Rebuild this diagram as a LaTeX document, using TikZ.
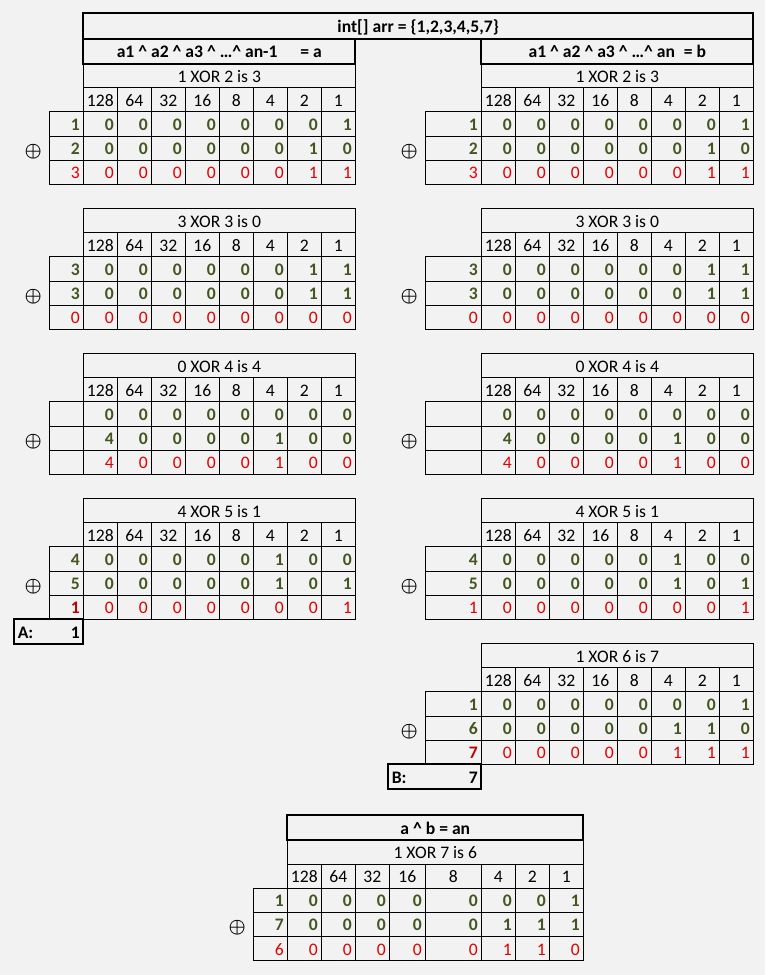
\documentclass[tikz,border=0pt]{standalone}
\usepackage{fontspec}
\setmainfont{Carlito}
\usetikzlibrary{positioning,calc}
\definecolor{sheet}{HTML}{F2F2F2}
\definecolor{bitgreen}{HTML}{44561F}
\definecolor{bitred}{HTML}{E00000}
\definecolor{sumred}{HTML}{C00000}
\newcommand{\cellfont}{\fontsize{13.2}{15}\selectfont}
\tikzset{
  cell/.style={
    draw,
    line width=0.75pt,
    anchor=north west,
    inner ysep=0pt,
    inner xsep=2.6pt,
    outer sep=0pt,
    minimum height=18.075pt,
    text height=10pt,
    text depth=0pt,
    font=\cellfont
  },
  wcell/.style={cell, minimum width=25.5pt},
  bit/.style={cell, minimum width=25.5pt, text width=20.3pt, align=right},
  bit36/.style={cell, minimum width=27pt, text width=21.8pt, align=right},
  lab34/.style={bit},
  lab56/.style={cell, minimum width=42pt, text width=36.8pt, align=right},
  titlecell/.style={cell, minimum width=204pt},
  head/.style={cell, line width=1.5pt, minimum height=18.9pt, font=\cellfont\bfseries},
  on/.style={text=bitgreen, font=\cellfont\bfseries},
  sum/.style={text=bitred},
  xorsign/.style={inner sep=0pt, font=\fontsize{13.5}{13.5}\selectfont\boldmath}
}
% one row: label cell + 8 bit cells
\newcommand{\bitrow}[6]{%
  \foreach \val [count=\col from 0] in {#6} {
    \ifnum\col=0
      \node[lab#3,#5] (#1\col) at ({#2-#3},{#4}) {\val};
    \else
      \node[bit,#5] (#1\col) at ({#2+34*(\col-1)},{#4}) {\val};
    \fi}}
% one xor step: title, weights, two operands, result
\newcommand{\xorblock}[8]{%
  \node[titlecell] (#1-t) at (#2,#4) {#5};
  \foreach \w [count=\col] in {128,64,32,16,8,4,2,1}
    \node[wcell] (#1-w\col) at ({#2+34*(\col-1)},{#4+24.1}) {\w};
  \bitrow{#1-a}{#2}{#3}{#4+48.2}{on}{#6}
  \bitrow{#1-b}{#2}{#3}{#4+72.3}{on}{#7}
  \bitrow{#1-c}{#2}{#3}{#4+96.4}{sum}{#8}
  \node[xorsign] (#1-op) at ({#2-#3-16},{#4+87.5}) {$\oplus$};
}

\begin{document}
\begin{tikzpicture}[x=0.75pt,y=-0.75pt]
  \fill[sheet] (0,0) rectangle (765,975);
  \useasboundingbox (0,0) rectangle (765,975);

  \node[head, minimum width=502.3pt] (arr) at (83.3,13.3) {int[] arr = \{1,2,3,4,5,7\}};
  \node[head, minimum width=204pt] (ha) at (83.3,38.5)
    {a1 \textasciicircum{} a2 \textasciicircum{} a3 \textasciicircum{} …\textasciicircum{} an-1\hspace{1.3em}= a};
  \node[head, minimum width=204pt] (hb) at (481.3,38.5)
    {a1 \textasciicircum{} a2 \textasciicircum{} a3 \textasciicircum{} …\textasciicircum{} an\hspace{0.5em}= b};

  % left: a1 ^ ... ^ an-1
  \xorblock{l1}{83.3}{34}{63.7}{1 XOR 2 is 3}
    {1,0,0,0,0,0,0,0,1}{2,0,0,0,0,0,0,1,0}{3,0,0,0,0,0,0,1,1}
  \xorblock{l2}{83.3}{34}{208.7}{3 XOR 3 is 0}
    {3,0,0,0,0,0,0,1,1}{3,0,0,0,0,0,0,1,1}{0,0,0,0,0,0,0,0,0}
  \xorblock{l3}{83.3}{34}{353.7}{0 XOR 4 is 4}
    {{},0,0,0,0,0,0,0,0}{{},4,0,0,0,0,1,0,0}{{},4,0,0,0,0,1,0,0}
  \xorblock{l4}{83.3}{34}{498.7}{4 XOR 5 is 1}
    {4,0,0,0,0,0,1,0,0}{5,0,0,0,0,0,1,0,1}{{\bfseries\color{sumred}1},0,0,0,0,0,0,0,1}
  \node[head, minimum width=51.75pt, text width=46.55pt] (sumA) at (14.3,619.2) {A:\hfill 1};

  % right: a1 ^ ... ^ an
  \xorblock{r1}{481.3}{56}{63.7}{1 XOR 2 is 3}
    {1,0,0,0,0,0,0,0,1}{2,0,0,0,0,0,0,1,0}{3,0,0,0,0,0,0,1,1}
  \xorblock{r2}{481.3}{56}{208.7}{3 XOR 3 is 0}
    {3,0,0,0,0,0,0,1,1}{3,0,0,0,0,0,0,1,1}{0,0,0,0,0,0,0,0,0}
  \xorblock{r3}{481.3}{56}{353.7}{0 XOR 4 is 4}
    {{},0,0,0,0,0,0,0,0}{{},4,0,0,0,0,1,0,0}{{},4,0,0,0,0,1,0,0}
  \xorblock{r4}{481.3}{56}{498.7}{4 XOR 5 is 1}
    {4,0,0,0,0,0,1,0,0}{5,0,0,0,0,0,1,0,1}{1,0,0,0,0,0,0,0,1}
  \xorblock{r5}{481.3}{56}{643.7}{1 XOR 6 is 7}
    {1,0,0,0,0,0,0,0,1}{6,0,0,0,0,0,1,1,0}{{\bfseries\color{sumred}7},0,0,0,0,0,1,1,1}
  \node[head, minimum width=69.75pt, text width=64.55pt] (sumB) at (388.3,764.2) {B:\hfill 7};

  % a ^ b = an
  \node[head, minimum width=222pt] (hab) at (287.3,815) {a \textasciicircum{} b = an};
  \node[cell, minimum width=222pt] (l7-t) at (287.3,839.9) {1 XOR 7 is 6};
  \foreach \x/\s/\ww/\w/\p/\q/\r [count=\col] in {
      287.3/bit/25.5/128/0/0/0, 321.3/bit/25.5/64/0/0/0, 355.3/bit/25.5/32/0/0/0,
      389.3/bit36/27/16/0/0/0, 425.3/lab56/42/8/0/0/0, 481.3/bit/25.5/4/0/1/1,
      515.3/bit/25.5/2/0/1/1, 549.3/bit/25.5/1/1/1/0} {
    \node[wcell, minimum width=\ww pt] (l7-w\col) at (\x,864.0) {\w};
    \node[\s,on] (l7-a\col) at (\x,888.1) {\p};
    \node[\s,on] (l7-b\col) at (\x,912.2) {\q};
    \node[\s,sum] (l7-c\col) at (\x,936.3) {\r};
  }
  \node[lab34,on] (l7-a0) at (253.3,888.1) {1};
  \node[lab34,on] (l7-b0) at (253.3,912.2) {7};
  \node[lab34,sum] (l7-c0) at (253.3,936.3) {6};
  \node[xorsign] (l7-op) at (237.3,927.4) {$\oplus$};
\end{tikzpicture}
\end{document}
